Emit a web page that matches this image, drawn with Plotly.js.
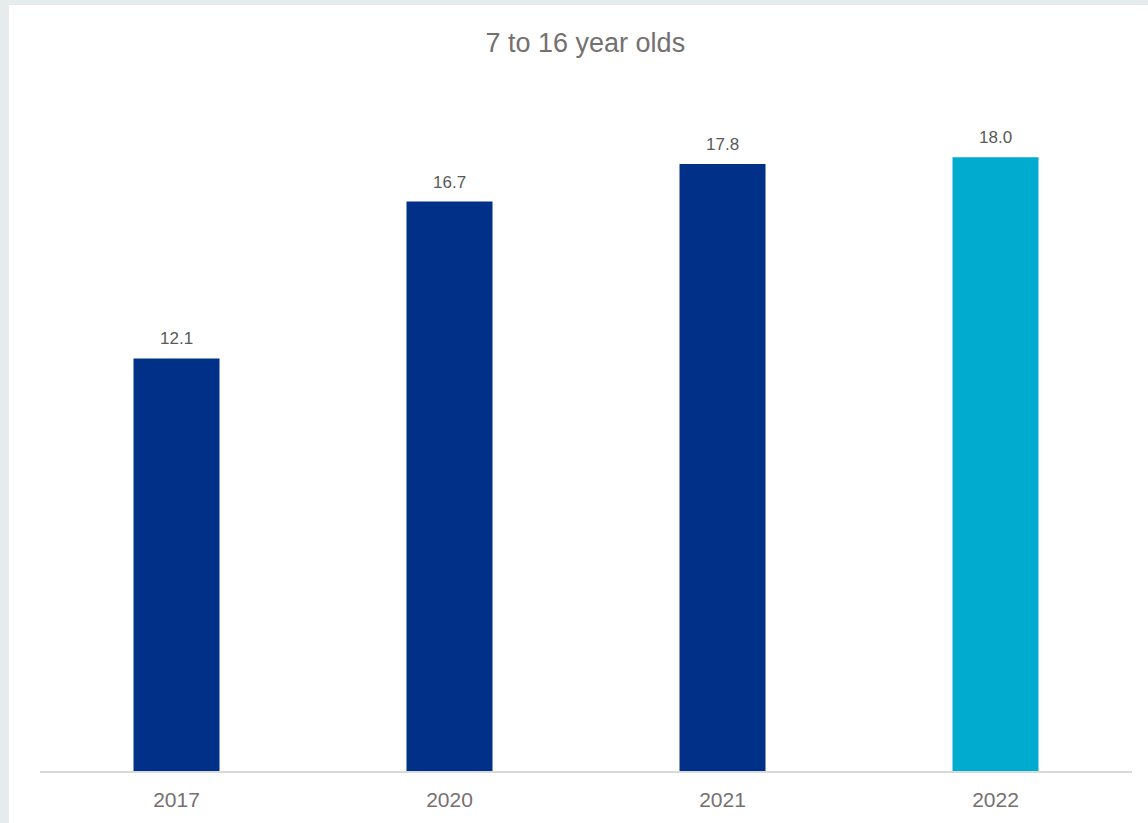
<!DOCTYPE html>
<html><head><meta charset="utf-8">
<script src="https://cdn.plot.ly/plotly-3.0.1.min.js"></script>
<style>
html,body{margin:0;padding:0;background:#e6ecec;width:1148px;height:823px;overflow:hidden;}
#chart{position:absolute;left:9px;top:5px;width:1139px;height:818px;background:#fff;}
</style></head>
<body><div id="chart"></div>
<script>
const categories = ["2017", "2020", "2021", "2022"];
const values = [12.1, 16.7, 17.8, 18.0];
const labels = ["12.1", "16.7", "17.8", "18.0"];
const barColors = ["#003087", "#003087", "#003087", "#00abd0"];
const chartTitle = "7 to 16 year olds";

const trace = {
  type: "bar", x: categories, y: values,
  marker: {color: barColors, line: {width: 0}},
  hoverinfo: "skip"
};
// on a category axis, annotation x is given as the category index
const annotations = categories.map((c, i) => ({
  x: i, y: values[i], text: labels[i], showarrow: false,
  yanchor: "bottom", yshift: 8,
  font: {family: "Liberation Sans, Arial, sans-serif", size: 17, color: "#595959"}
}));
const layout = {
  width: 1139, height: 818,
  margin: {l: 31, r: 16, t: 84, b: 52},
  paper_bgcolor: "#ffffff", plot_bgcolor: "#ffffff",
  bargap: 0.685,
  showlegend: false,
  title: {text: chartTitle, x: 0.506, xanchor: "center", y: 1 - 38/818, yanchor: "middle",
    font: {family: "Liberation Sans, Arial, sans-serif", size: 27, color: "#757070"}},
  xaxis: {type: "category", range: [-0.5, categories.length - 0.5], showline: true, linecolor: "#d9d9d9", linewidth: 2,
    ticks: "", showgrid: false, zeroline: false, ticklabelstandoff: 9,
    tickfont: {family: "Liberation Sans, Arial, sans-serif", size: 21, color: "#757070"}},
  yaxis: {range: [0, 20], visible: false, showgrid: false, zeroline: false},
  annotations: annotations
};
Plotly.newPlot("chart", [trace], layout, {displayModeBar: false, staticPlot: true});
</script></body></html>
